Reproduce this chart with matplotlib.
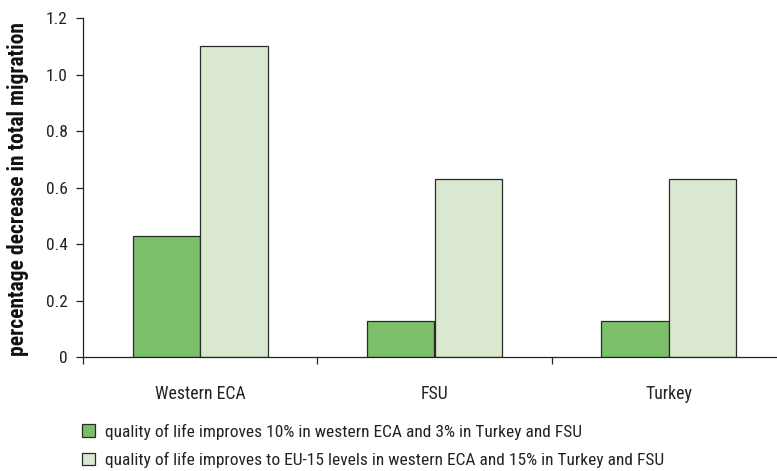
import matplotlib
matplotlib.use("Agg")
import matplotlib.pyplot as plt
import numpy as np
from matplotlib.patches import Patch

categories = ["Western ECA", "FSU", "Turkey"]
series_names = [
    "quality of life improves 10% in western ECA and 3% in Turkey and FSU",
    "quality of life improves to EU-15 levels in western ECA and 15% in Turkey and FSU",
]
values_small = [0.43, 0.13, 0.13]
values_large = [1.10, 0.63, 0.63]
y_ticks = [0, 0.2, 0.4, 0.6, 0.8, 1.0, 1.2]
y_tick_labels = ["0", "0.2", "0.4", "0.6", "0.8", "1.0", "1.2"]
y_label = "percentage decrease in total migration"

plt.rcParams['font.family'] = ['Roboto Condensed', 'Liberation Sans Narrow', 'DejaVu Sans']
plt.rcParams['font.stretch'] = 'condensed'

W, H = 777, 471
fig = plt.figure(figsize=(W / 100, H / 100), dpi=100)
ax = fig.add_axes([83 / W, (H - 357.3) / H, (786 - 83) / W, (357.3 - 18.2) / H])

colors = ["#7bbf6a", "#d9e8cf"]
edge = "#2a2a2a"
bw = 0.288
x = np.arange(len(categories))
ax.bar(x - bw / 2, values_small, bw, color=colors[0], edgecolor=edge, linewidth=0.9)
ax.bar(x + bw / 2, values_large, bw, color=colors[1], edgecolor=edge, linewidth=0.9)

ax.set_xlim(-0.5, len(categories) - 0.5)
ax.set_ylim(0, 1.2)
ax.set_yticks(y_ticks)
ax.set_yticklabels(y_tick_labels)
ax.set_xticks(np.arange(len(categories) + 1) - 0.5)
ax.set_xticklabels([])
ax.set_xticks(x, minor=True)
ax.set_xticklabels(categories, minor=True)
ax.tick_params(axis='x', which='major', direction='out', length=5, width=0.9, color="#222222")
ax.tick_params(axis='x', which='minor', length=0, pad=20, labelsize=12.8, labelcolor="#222222")
ax.tick_params(axis='y', direction='out', length=5, width=0.9, pad=6, labelsize=12.5, labelcolor="#222222", color="#222222")

for s in ["top", "right"]:
    ax.spines[s].set_visible(False)
for s in ["left", "bottom"]:
    ax.spines[s].set_linewidth(0.9)
    ax.spines[s].set_color("#222222")

fig.text(18.5 / W, 1 - 189 / H, y_label, rotation=90, ha='center', va='center',
         fontsize=15.5, fontweight='bold', color="#111111")

handles = [Patch(facecolor=colors[0], edgecolor=edge, linewidth=0.9),
           Patch(facecolor=colors[1], edgecolor=edge, linewidth=0.9)]
fig.legend(handles, series_names, loc='upper left', bbox_to_anchor=(82 / W, 1 - 423.5 / H),
           frameon=False, fontsize=12.5, handlelength=0.75, handleheight=0.75,
           handletextpad=0.55, labelspacing=0.72, borderpad=0, borderaxespad=0,
           labelcolor="#222222")

fig.savefig("out.png", dpi=100)
